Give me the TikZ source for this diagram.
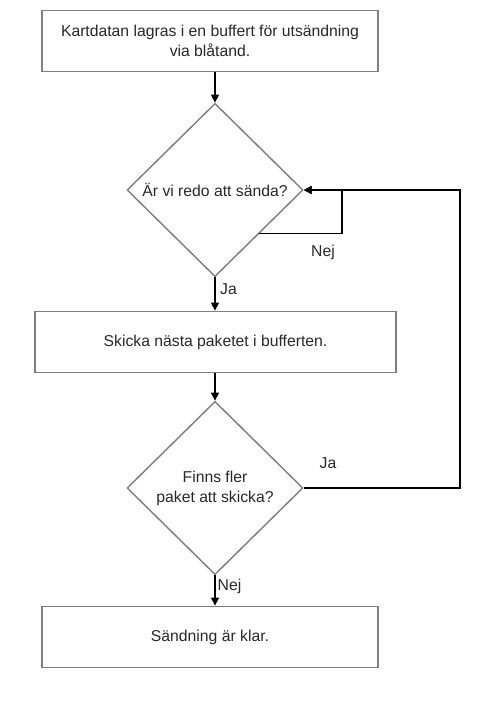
\documentclass[tikz,border=0pt]{standalone}
\usepackage{fontspec}
\setmainfont{Liberation Sans}
\usetikzlibrary{shapes.geometric,arrows.meta}

\definecolor{boxgray}{RGB}{128,128,128}
\definecolor{txtgray}{RGB}{40,40,40}

\tikzset{
  process/.style={draw=boxgray, line width=1.1pt, rectangle, inner sep=0pt,
    text=txtgray, align=center, font=\fontsize{11.8}{15}\selectfont},
  decision/.style={draw=boxgray, line width=1.1pt, diamond, inner sep=0pt,
    minimum width=132pt, minimum height=130pt, label distance=0pt},
  flow/.style={line width=1.1pt, -{Triangle[length=6pt,width=6pt]}},
  answer/.style={text=txtgray, font=\fontsize{11.8}{15}\selectfont}
}

\begin{document}
\begin{tikzpicture}[x=0.75pt,y=0.75pt,yscale=-1,xscale=1]
\useasboundingbox (0,0) rectangle (480,708);

% Boxes
\node[process, minimum width=252pt, minimum height=46pt] (store) at (210,41)
  {Kartdatan lagras i en buffert för utsändning\\via blåtand.};
\node[process, minimum width=271pt, minimum height=46pt] (send) at (215.5,342)
  {Skicka nästa paketet i bufferten.};
\node[process, minimum width=252pt, minimum height=46pt] (done) at (210,637)
  {Sändning är klar.};

% Decisions
\node[decision, label={[answer]center:Är vi redo att sända?}] (ready) at (215,190) {};
\node[decision, label={[answer, align=center]center:Finns fler\\paket att skicka?}] (more) at (215,488) {};

% Loop corners
\coordinate (wait) at (342,190);
\coordinate (back) at (460,190);

% Connectors
\draw[flow] (store.south -| ready.north) -- (ready.north);
\draw[flow] (ready.south) -- node[answer, right, pos=0.35] {Ja} (ready.south |- send.north);
\draw[flow] (ready.south |- send.south) -- (more.north);
\draw[flow] (more.south) -- node[answer, right, pos=0.35, inner sep=1.5pt] {Nej} (more.south |- done.north);
\draw[flow] (ready.south east) -| (wait) -- (ready.east);
\node[answer] (nej1) at (323,252) {Nej};
\draw[flow] (more.east) -| (back) -- (ready.east);
\node[answer] (ja2) at (328,463) {Ja};

\end{tikzpicture}
\end{document}
